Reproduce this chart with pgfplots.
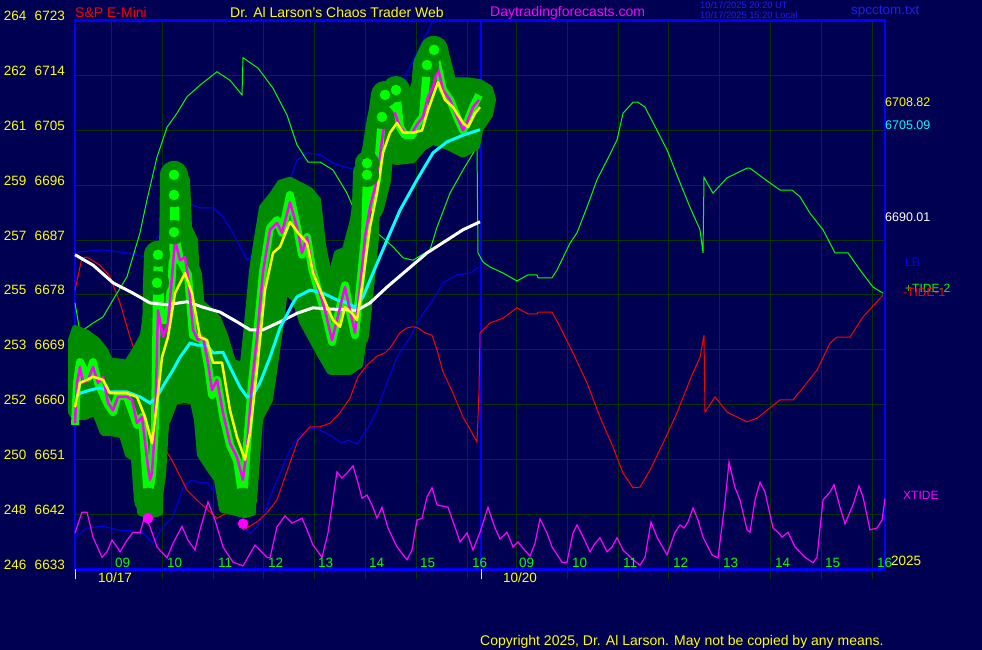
\documentclass[border=0pt]{standalone}
\usepackage{fontspec}
\setmainfont{Liberation Sans}
\usepackage{pgfplots}
\pgfplotsset{compat=1.18}
\definecolor{bg}{RGB}{0,0,82}
\definecolor{gridc}{RGB}{4,54,4}
\definecolor{frameblue}{RGB}{0,0,255}
\definecolor{lineblue}{RGB}{0,0,240}
\definecolor{blob}{RGB}{0,140,0}
\definecolor{brightgreen}{RGB}{0,255,0}
\definecolor{mag}{RGB}{255,0,255}
\definecolor{yel}{RGB}{255,255,0}
\definecolor{cyn}{RGB}{0,255,255}
\definecolor{tsblue}{RGB}{30,30,235}
\newcommand\fs[1]{\fontsize{#1}{#1}\selectfont}

\begin{document}
\begin{tikzpicture}[x=1pt,y=1pt]
\useasboundingbox (0,0) rectangle (982,650);
\fill[bg] (0,0) rectangle (982,650);
\begin{axis}[
  at={(75pt,80.5pt)}, anchor=south west,
  scale only axis, width=810pt, height=549pt,
  xmin=75, xmax=885, ymin=6633, ymax=6723,
  clip=false,
  axis line style={draw=frameblue, line width=2.5pt},
  xtick={111,162.3,213.3,263.3,314.3,365.3,416.3,467,516,567.3,618.3,668.3,719.3,770.3,821.3,872.3},
  xticklabels={},
  ytick={6633,6642,6651,6660,6669,6678,6687,6696,6705,6714,6723},
  yticklabels={{\makebox[31pt][l]{246}6633},{\makebox[31pt][l]{248}6642},{\makebox[31pt][l]{250}6651},
    {\makebox[31pt][l]{252}6660},{\makebox[31pt][l]{253}6669},{\makebox[31pt][l]{255}6678},
    {\makebox[31pt][l]{257}6687},{\makebox[31pt][l]{259}6696},{\makebox[31pt][l]{261}6705},
    {\makebox[31pt][l]{262}6714},{\makebox[31pt][l]{264}6723}},
  grid=major,
  grid style={draw=gridc, line width=1pt},
  tick align=outside,
  major tick length=10pt,
  xtick pos=bottom, ytick pos=left,
  xtick style={draw=gridc, line width=1pt},
  ytick style={draw=none},
  yticklabel style={anchor=base east, text=yel, font=\fs{13.5}, inner sep=0pt},
  extra x ticks={75,481}, extra x tick labels={},
  extra x tick style={grid style={draw=frameblue, line width=2pt}, xtick style={draw=yel, line width=1pt}},
]
% upper blue band
\addplot[lineblue, line width=1pt] coordinates {
(75,6685.0)(103,6685.4)(127,6684.9)(147,6684.2)(163,6689.1)(173,6692.0)(187,6693.1)(200,6692.3)
(213,6692.3)(223,6690.8)(233,6688.2)(247,6683.7)(257,6685.4)(280,6692.4)(297,6700.1)(307,6701.3)
(320,6701.0)(333,6699.6)(347,6698.9)(357,6698.5)(363,6699.6)(370,6701.3)(380,6705.0)(393,6710.0)
(407,6714.4)(420,6718.7)(433,6723.0)};
% lower blue band
\addplot[lineblue, line width=1pt] coordinates {
(75,6638.3)(87,6639.8)(103,6640.1)(117,6639.5)(133,6639.3)(143,6639.0)(153,6637.3)(163,6640.0)
(173,6641.6)(183,6646.5)(192,6647.7)(200,6647.2)(208,6647.2)(213,6646.0)(223,6646.0)(233,6644.4)
(243,6640.0)(250,6639.0)(257,6640.0)(267,6643.2)(270,6644.9)(280,6648.8)(290,6652.6)(300,6655.0)
(310,6656.2)(320,6655.9)(330,6655.0)(342,6653.7)(348,6654.2)(357,6653.6)(367,6655.9)(377,6659.1)
(387,6663.6)(397,6667.8)(410,6671.1)(420,6674.2)(433,6677.2)(443,6680.0)(457,6681.3)(470,6681.6)
(479,6682.6)};
% -TIDE-1
\addplot[red, line width=1pt] coordinates {
(75,6678.8)(82,6684.1)(87,6684.2)(100,6682.9)(110,6681.0)(120,6676.7)(130,6671.1)(140,6666.2)
(150,6659.1)(160,6654.2)(173,6650.6)(187,6646.0)(200,6643.9)(217,6641.4)(233,6642.8)(243,6644.9)
(243.5,6639.5)(257,6640.8)(267,6642.3)(277,6644.4)(290,6650.5)(298,6654.2)(310,6656.4)(320,6656.4)
(330,6657.0)(340,6658.7)(350,6661.1)(358,6664.6)(367,6666.5)(377,6668.0)(385,6668.5)(390,6669.3)
(400,6671.8)(407,6672.6)(413,6672.8)(418,6672.6)(425,6671.8)(432,6671.4)(437,6669.0)(443,6665.4)
(453,6661.9)(463,6658.0)(472,6655.4)(477,6653.9)(479,6662.4)(480,6671.8)(490,6673.4)(503,6674.2)
(517,6675.9)(528,6674.9)(537,6674.9)(538,6675.2)(552,6675.2)(560,6672.8)(573,6668.5)(587,6663.6)
(600,6658.0)(613,6653.1)(623,6648.8)(633,6646.4)(640,6646.5)(650,6649.3)(663,6653.7)(677,6658.7)
(690,6664.1)(700,6667.8)(704,6671.4)(705,6658.8)(715,6661.3)(727,6658.8)(747,6657.2)(757,6657.8)
(770,6659.5)(780,6660.8)(793,6660.8)(803,6662.8)(817,6665.7)(830,6670.1)(837,6671.1)(850,6671.1)
(863,6674.4)(883,6678.0)};
% +TIDE-2
\addplot[brightgreen, line width=1pt] coordinates {
(75,6676.7)(80,6671.9)(93,6673.4)(103,6674.4)(113,6677.2)(127,6681.0)(140,6688.2)(147,6693.6)
(157,6700.6)(167,6705.5)(177,6707.8)(187,6710.5)(200,6712.4)(217,6714.6)(230,6713.2)(242,6710.8)
(243,6716.9)(258,6715.2)(273,6711.9)(287,6707.5)(297,6702.6)(308,6699.8)(320,6699.8)(333,6698.5)
(347,6694.7)(353,6692.4)(363,6689.8)(377,6688.2)(393,6685.9)(403,6684.1)(413,6683.7)(430,6685.4)
(437,6689.1)(450,6694.7)(463,6698.5)(477,6702.3)(478,6684.9)(483,6683.4)(490,6682.6)(503,6681.6)
(517,6680.3)(528,6681.3)(537,6681.3)(538,6680.8)(552,6680.8)(557,6682.1)(570,6686.5)(577,6688.2)
(587,6692.4)(597,6696.9)(607,6700.1)(617,6703.4)(623,6707.8)(633,6709.6)(638,6709.6)(645,6708.8)
(657,6705.0)(667,6701.8)(680,6696.4)(690,6692.4)(700,6688.7)(703,6684.9)(704,6697.3)(707,6696.4)
(713,6694.7)(727,6697.2)(747,6698.8)(750,6698.8)(763,6697.2)(780,6695.2)(792,6695.2)(800,6694.1)
(810,6691.4)(823,6688.7)(835,6684.9)(848,6684.9)(860,6682.1)(873,6679.3)(883,6678.3)};
% XTIDE
\addplot[mag, line width=1.2pt] coordinates {
(75,6639.0)(82,6642.4)(87,6642.4)(93,6638.3)(102,6635.0)(107,6635.9)(112,6637.8)(117,6636.7)
(120,6635.9)(127,6637.8)(133,6639.1)(140,6639.0)(145,6641.9)(150,6640.0)(157,6636.7)(167,6634.9)
(173,6637.3)(182,6640.1)(188,6637.8)(195,6636.2)(200,6639.5)(208,6644.1)(215,6641.1)(223,6636.7)
(233,6634.2)(243,6633.6)(255,6637.0)(267,6635.0)(270,6634.9)(277,6640.0)(285,6641.8)(292,6640.6)
(302,6641.4)(307,6639.5)(313,6637.0)(322,6635.0)(328,6639.0)(337,6649.0)(342,6648.0)(347,6648.8)
(353,6650.0)(358,6647.2)(362,6644.7)(367,6645.2)(372,6643.6)(377,6641.4)(382,6643.2)(388,6639.8)
(397,6636.7)(407,6634.6)(412,6636.2)(417,6641.1)(422,6641.4)(427,6644.9)(432,6646.4)(437,6643.6)
(448,6643.2)(457,6639.0)(460,6637.5)(467,6639.0)(473,6636.2)(480,6639.1)(488,6643.2)(495,6639.8)
(500,6638.0)(507,6639.1)(513,6636.7)(518,6637.5)(523,6636.5)(530,6635.2)(535,6637.3)(540,6641.3)
(547,6639.0)(552,6636.7)(562,6634.2)(567,6634.2)(573,6639.0)(577,6640.3)(582,6638.7)(590,6635.9)
(595,6637.3)(600,6638.2)(607,6635.9)(612,6636.7)(617,6638.2)(623,6636.2)(633,6634.6)(640,6633.7)
(645,6635.0)(651,6640.8)(657,6638.3)(667,6635.4)(675,6639.1)(680,6640.3)(684,6639.8)(688,6640.8)
(693,6643.1)(698,6641.1)(703,6638.3)(712,6635.4)(718,6634.9)(725,6644.1)(729,6650.6)(735,6646.4)
(740,6644.4)(747,6639.5)(750,6639.1)(755,6644.4)(760,6647.3)(765,6645.7)(773,6639.8)(778,6639.1)
(782,6638.3)(788,6639.1)(795,6636.7)(805,6635.0)(813,6634.1)(817,6635.0)(823,6644.4)(830,6645.7)
(834,6646.9)(840,6643.2)(845,6640.5)(853,6643.6)(859,6646.7)(863,6644.9)(870,6639.5)(877,6639.8)
(882,6641.1)(885,6644.6)};
% price range envelope (dark green glow)
\addplot[fill=blob, draw=blob, line width=6pt, line join=round] coordinates {
(71,6670.6)(75,6672.6)(87,6671.8)(97,6670.6)(105,6669.0)(110,6667.3)(127,6666.9)(135,6669.0)
(143,6671.4)(147,6676.4)(152,6683.4)(158,6685.7)(162,6684.6)(163,6696.9)(168,6698.8)(180,6698.8)
(187,6696.9)(189,6689.1)(195,6687.0)(198,6677.2)(210,6675.5)(218,6674.2)(225,6671.4)(233,6667.0)
(243,6666.5)(250,6672.3)(253,6682.9)(262,6692.4)(272,6694.4)(280,6696.4)(290,6696.9)(310,6695.2)
(318,6693.6)(323,6686.2)(330,6680.5)(337,6684.9)(345,6685.4)(353,6690.3)(360,6699.0)(365,6701.8)
(370,6707.0)(377,6711.6)(387,6712.4)(397,6712.8)(410,6710.8)(417,6713.6)(422,6717.0)(433,6719.5)
(447,6717.0)(453,6713.2)(467,6713.2)(480,6712.9)(490,6711.9)(493,6710.0)
(490,6707.5)(480,6705.1)(477,6702.3)(463,6701.0)(447,6702.3)(433,6703.1)(423,6702.1)(413,6700.1)
(397,6699.8)(387,6700.1)(380,6694.7)(372,6689.5)(367,6683.7)(365,6672.3)(360,6666.5)(350,6665.4)
(330,6665.4)(320,6668.2)(313,6670.3)(302,6673.6)(295,6677.2)(285,6678.8)(280,6672.3)(275,6666.5)
(270,6660.8)(262,6658.3)(255,6655.9)(253,6642.3)(245,6641.9)(235,6642.3)(222,6642.8)(217,6647.7)
(210,6649.3)(200,6651.8)(197,6657.5)(193,6660.5)(185,6660.8)(175,6660.5)(168,6657.5)(162,6655.9)
(160,6642.3)(150,6641.8)(140,6642.3)(137,6651.0)(128,6651.8)(122,6655.0)(110,6655.4)(103,6655.4)
(95,6658.7)(85,6658.0)(75,6658.0)(71,6658.7)} -- cycle;
\addplot[blob, line width=28pt, line join=round, line cap=round] coordinates {
(88,6664.4)(93,6667.0)(98,6663.6)(108,6660.0)(113,6658.8)
(118,6661.6)(127,6661.3)(137,6656.7)(142,6658.0)(148,6644.4)(152,6648.5)(155,6656.7)(157,6680.0)
(158,6684.6)(161,6673.9)(168,6673.9)(172,6681.3)(174,6688.2)(174,6697.7)(176,6687.0)(180,6683.7)
(188,6681.3)(193,6671.4)(203,6670.6)(208,6666.5)(212,6661.6)(217,6664.1)(223,6658.3)(230,6653.4)
(237,6650.9)(243,6644.4)(247,6653.4)(252,6663.6)(257,6671.4)(263,6681.8)(270,6689.0)(277,6690.3)
(282,6688.2)(290,6694.4)(297,6689.1)(302,6684.6)(307,6687.5)(312,6682.4)(318,6678.8)(325,6675.2)
(332,6670.3)(337,6673.9)(345,6679.6)(350,6675.2)(355,6671.4)(360,6679.3)(365,6687.5)(367,6698.0)
(370,6692.4)(377,6696.9)(382,6707.2)(385,6710.8)(390,6707.0)(396,6711.6)(400,6705.5)(405,6704.2)
(412,6704.2)(418,6706.2)(423,6707.2)(427,6715.7)(434,6718.2)(438,6715.2)(443,6711.6)(450,6710.0)
(457,6707.2)(463,6705.0)(468,6706.7)(473,6708.8)(479,6710.8)};
\addplot[only marks, mark=*, mark size=12pt, mark options={draw=blob, fill=blob}] coordinates {
(174,6697.7)(174,6694.4)(174,6688.3)(158,6684.6)(157,6680.0)(434,6718.2)(427,6715.7)(396,6711.6)
(385,6710.8)(382,6707.2)(367,6699.6)(367,6697.7)(148,6644.4)(243,6644.4)};
% price bars
\addplot[brightgreen, line width=8pt, line join=round] coordinates {
(75,6656.7)(77,6663.6)(80,6667.0)(88,6664.4)(93,6667.0)(98,6663.6)(108,6660.0)(113,6658.8)
(118,6661.6)(127,6661.3)(137,6656.7)(142,6658.0)(148,6644.4)(152,6648.5)(155,6656.7)(157,6680.0)
(158,6684.6)(161,6673.9)(168,6673.9)(172,6681.3)(174,6688.2)(174,6697.7)(176,6687.0)(180,6683.7)
(188,6681.3)(193,6671.4)(203,6670.6)(208,6666.5)(212,6661.6)(217,6664.1)(223,6658.3)(230,6653.4)
(237,6650.9)(243,6644.4)(247,6653.4)(252,6663.6)(257,6671.4)(263,6681.8)(270,6689.0)(277,6690.3)
(282,6688.2)(290,6694.4)(297,6689.1)(302,6684.6)(307,6687.5)(312,6682.4)(318,6678.8)(325,6675.2)
(332,6670.3)(337,6673.9)(345,6679.6)(350,6675.2)(355,6671.4)(360,6679.3)(365,6687.5)(367,6698.0)
(370,6692.4)(377,6696.9)(382,6707.2)(385,6710.8)(390,6707.0)(396,6711.6)(400,6705.5)(405,6704.2)
(412,6704.2)(418,6706.2)(423,6707.2)(427,6715.7)(434,6718.2)(438,6715.2)(443,6711.6)(450,6710.0)
(457,6707.2)(463,6705.0)(468,6706.7)(473,6708.8)(479,6710.8)};
\addplot[only marks, mark=*, mark size=5pt, mark options={draw=brightgreen, fill=brightgreen}] coordinates {
(174,6697.7)(174,6694.4)(174,6688.3)(158,6684.6)(157,6680.0)(434,6718.2)(427,6715.7)(396,6711.6)
(385,6710.8)(382,6707.2)(367,6699.6)(367,6697.7)};
% long average
\addplot[white, line width=3pt] coordinates {
(75,6684.6)(93,6682.9)(113,6680.0)(133,6678.3)(150,6676.7)(167,6676.4)(187,6676.9)(203,6676.0)
(220,6675.2)(237,6673.6)(250,6672.3)(263,6672.3)(280,6673.6)(297,6675.0)(313,6675.9)(330,6675.7)
(357,6675.5)(370,6676.7)(387,6679.3)(407,6682.1)(427,6684.9)(447,6687.0)(463,6688.7)(480,6690.0)};
% medium average
\addplot[cyn, line width=3pt] coordinates {
(75,6661.1)(80,6661.9)(90,6662.4)(100,6662.8)(110,6662.1)(127,6662.1)(140,6661.3)(150,6660.3)
(157,6661.3)(165,6663.6)(173,6665.7)(180,6667.8)(190,6670.1)(197,6669.8)(207,6669.8)(213,6668.5)
(223,6668.6)(230,6666.2)(240,6662.9)(247,6661.3)(253,6661.6)(260,6663.6)(270,6667.8)(280,6672.6)
(293,6676.7)(297,6677.7)(310,6678.8)(323,6678.3)(337,6677.2)(347,6676.7)(355,6676.0)(363,6677.7)
(373,6681.6)(387,6687.0)(400,6691.9)(417,6696.9)(433,6701.3)(447,6703.1)(463,6704.2)(480,6705.1)};
% price
\addplot[mag, line width=2.5pt, line join=round] coordinates {
(75,6657.0)(77,6663.6)(80,6666.2)(83,6663.6)(88,6664.1)(93,6666.2)(98,6663.6)(103,6664.6)
(108,6660.3)(113,6659.1)(118,6661.3)(127,6661.3)(132,6660.8)(137,6657.0)(142,6658.0)(148,6649.8)
(150,6647.7)(152,6648.8)(155,6656.4)(158,6675.5)(163,6671.1)(168,6673.4)(172,6681.0)(175,6687.0)
(180,6683.7)(185,6684.2)(188,6681.0)(193,6672.3)(198,6670.6)(203,6671.1)(208,6666.9)(212,6662.4)
(217,6664.1)(223,6658.7)(230,6653.7)(237,6651.4)(243,6647.7)(247,6653.1)(252,6663.6)(257,6671.1)
(263,6681.8)(270,6688.7)(277,6689.8)(282,6688.2)(290,6693.2)(297,6689.1)(302,6684.9)(307,6687.5)
(312,6682.6)(318,6679.3)(325,6675.5)(332,6670.6)(337,6673.9)(345,6679.3)(350,6675.5)(355,6671.8)
(360,6679.3)(365,6687.5)(370,6692.4)(377,6696.9)(382,6703.4)(385,6706.7)(390,6707.0)(395,6707.8)
(400,6705.5)(405,6704.6)(412,6704.6)(418,6706.2)(423,6707.2)(428,6710.5)(433,6712.1)(438,6715.2)
(443,6711.6)(450,6710.0)(457,6707.2)(463,6705.0)(468,6706.7)(473,6708.8)(479,6710.0)};
% short average
\addplot[yel, line width=2.5pt, line join=round] coordinates {
(75,6659.6)(80,6663.6)(87,6664.1)(93,6664.6)(103,6664.1)(110,6661.9)(118,6661.9)(127,6661.9)
(137,6661.3)(145,6658.0)(152,6653.7)(157,6660.3)(162,6667.8)(168,6671.1)(175,6678.3)(185,6681.6)
(192,6678.3)(200,6671.1)(207,6670.6)(213,6666.9)(222,6666.9)(230,6659.1)(237,6654.7)(245,6651.0)
(250,6655.4)(257,6665.7)(265,6678.8)(273,6684.9)(280,6685.9)(290,6690.0)(298,6688.2)(307,6686.5)
(313,6681.6)(323,6677.7)(333,6673.9)(340,6672.8)(345,6676.0)(352,6675.0)(357,6673.9)(363,6680.5)
(370,6689.1)(377,6694.7)(383,6701.3)(390,6704.6)(397,6706.2)(403,6704.6)(413,6704.6)(422,6705.0)
(428,6708.3)(438,6712.9)(445,6710.0)(453,6708.8)(463,6706.2)(468,6705.5)(475,6707.8)(480,6708.8)};
% swing lows
\addplot[only marks, mark=*, mark size=5pt, mark options={draw=mag, fill=mag}] coordinates {
(148,6641.4)(243,6640.5)};
\end{axis}
% header
\node[anchor=base west, inner sep=0pt, text=red, font=\fs{14}] at (75,632) {S\&P E-Mini};
\node[anchor=base west, inner sep=0pt, text=yel, font=\fs{14}] at (230,632) {Dr. Al Larson's Chaos Trader Web};
\node[anchor=base west, inner sep=0pt, text=mag, font=\fs{14}] at (490,633) {Daytradingforecasts.com};
\node[anchor=base west, inner sep=0pt, text=tsblue, font=\fs{9.3}] at (700,641) {10/17/2025 20:20 UT};
\node[anchor=base west, inner sep=0pt, text=tsblue, font=\fs{9.3}] at (700,631) {10/17/2025 15:20 Local};
\node[anchor=base west, inner sep=0pt, text=tsblue, font=\fs{13.5}] at (851,635) {spcctom.txt};
% right side labels
\node[anchor=base west, inner sep=0pt, text=yel, font=\fs{12.5}] at (885,543) {6708.82};
\node[anchor=base west, inner sep=0pt, text=cyn, font=\fs{12.5}] at (885,520) {6705.09};
\node[anchor=base west, inner sep=0pt, text=white, font=\fs{12.5}] at (885,428) {6690.01};
\node[anchor=base west, inner sep=0pt, text=lineblue, font=\fs{12}] at (905,383) {LB};
\node[anchor=base west, inner sep=0pt, text=brightgreen, font=\fs{12}] at (905,357) {+TIDE-2};
\node[anchor=base west, inner sep=0pt, text=red, font=\fs{12}] at (903,353) {-TIDE-1};
\node[anchor=base west, inner sep=0pt, text=mag, font=\fs{12}] at (903,150) {XTIDE};
% hours
\foreach \x/\t in {115/09,167/10,218/11,268/12,318/13,369/14,420/15,472/16,
                   519/09,572/10,623/11,673/12,723/13,775/14,825/15,877/16}
  \node[anchor=base west, inner sep=0pt, text=brightgreen, font=\fs{13.5}] at (\x,82) {\t};
\node[anchor=base west, inner sep=0pt, text=yel, font=\fs{13.5}] at (891,84) {2025};
\node[anchor=base west, inner sep=0pt, text=yel, font=\fs{13.5}] at (98,67) {10/17};
\node[anchor=base west, inner sep=0pt, text=yel, font=\fs{13.5}] at (503,67) {10/20};
\node[anchor=base west, inner sep=0pt, text=yel, font=\fs{14}] at (480,4) {Copyright 2025, Dr. Al Larson. May not be copied by any means.};
\end{tikzpicture}
\end{document}
